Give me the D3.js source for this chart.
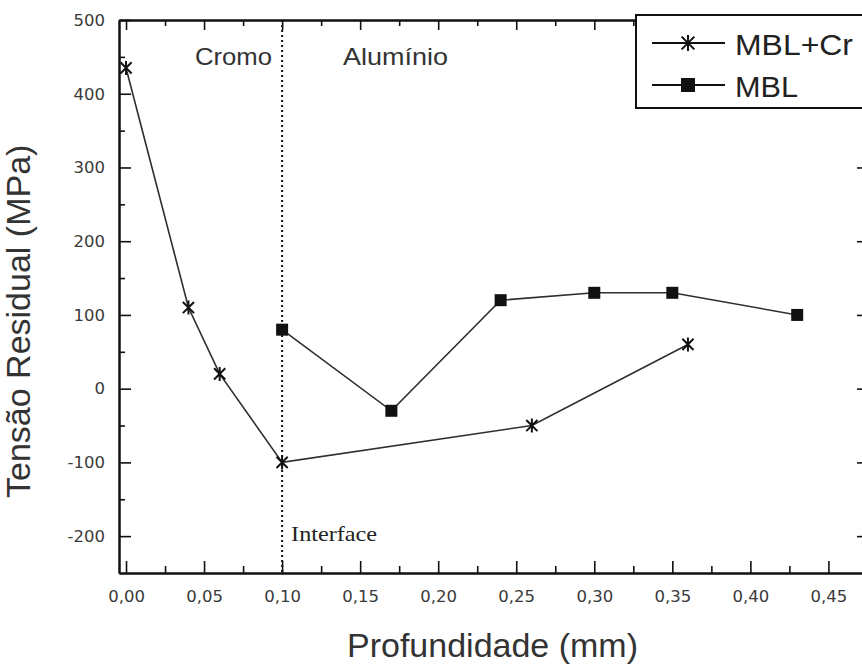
<!DOCTYPE html>
<html>
<head>
<meta charset="utf-8">
<script src="https://cdn.jsdelivr.net/npm/d3@7"></script>
<style>
  body { margin: 0; background: #fff; }
  svg { display: block; }
</style>
</head>
<body>
<svg id="chart" width="862" height="664"></svg>
<script>
// Residual stress profiles versus depth
const depthCr = [0.00, 0.04, 0.06, 0.10, 0.26, 0.36];
const stressCr = [435, 110, 20, -100, -50, 60];
const depthMBL = [0.10, 0.17, 0.24, 0.30, 0.35, 0.43];
const stressMBL = [80, -30, 120, 130, 130, 100];
const seriesNames = ["MBL+Cr", "MBL"];

const xTicks = [0.00, 0.05, 0.10, 0.15, 0.20, 0.25, 0.30, 0.35, 0.40, 0.45];
const xMinorTicks = [0.025, 0.075, 0.125, 0.175, 0.225, 0.275, 0.325, 0.375, 0.425];
const yTicks = [-200, -100, 0, 100, 200, 300, 400, 500];
const yMinorTicks = [-150, -50, 50, 150, 250, 350, 450];

const interfaceDepth = 0.10;
const regionNames = ["Cromo", "Alumínio"];
const interfaceName = "Interface";
const xTitle = "Profundidade (mm)";
const yTitle = "Tensão Residual (MPa)";

const svg = d3.select("#chart");
const plotLeft = 119, plotRight = 869, plotTop = 20, plotBottom = 573;

const x = d3.scaleLinear().domain([-0.0045, 0.476]).range([plotLeft, plotRight]);
const y = d3.scaleLinear().domain([-250, 500]).range([plotBottom, plotTop]);

const fmtX = v => d3.format(".2f")(v).replace(".", ",");
const fmtY = v => String(v);

// frame axes with inward ticks
function styleAxis(g) {
  g.select(".domain").attr("stroke", "#111").attr("stroke-width", 2);
  g.selectAll(".tick line").attr("stroke", "#111").attr("stroke-width", 1.6);
  g.selectAll(".tick text")
    .attr("font-family", "DejaVu Sans, sans-serif")
    .attr("font-size", 16.5)
    .attr("fill", "#3a3a3a");
}

// bottom
svg.append("g").attr("transform", `translate(0,${plotBottom})`)
  .call(d3.axisBottom(x).tickValues(xTicks).tickFormat(fmtX).tickSize(-12).tickSizeOuter(0).tickPadding(17))
  .call(styleAxis);
svg.append("g").attr("transform", `translate(0,${plotBottom})`)
  .call(d3.axisBottom(x).tickValues(xMinorTicks).tickFormat("").tickSize(-7).tickSizeOuter(0))
  .call(styleAxis);
// top
svg.append("g").attr("transform", `translate(0,${plotTop})`)
  .call(d3.axisTop(x).tickValues(xTicks).tickFormat("").tickSize(-10).tickSizeOuter(0))
  .call(styleAxis);
svg.append("g").attr("transform", `translate(0,${plotTop})`)
  .call(d3.axisTop(x).tickValues(xMinorTicks).tickFormat("").tickSize(-6).tickSizeOuter(0))
  .call(styleAxis);
// left
svg.append("g").attr("transform", `translate(${plotLeft},0)`)
  .call(d3.axisLeft(y).tickValues(yTicks).tickFormat(fmtY).tickSize(-12).tickSizeOuter(0).tickPadding(14))
  .call(styleAxis);
svg.append("g").attr("transform", `translate(${plotLeft},0)`)
  .call(d3.axisLeft(y).tickValues(yMinorTicks).tickFormat("").tickSize(-6).tickSizeOuter(0))
  .call(styleAxis);
// right
svg.append("g").attr("transform", `translate(${plotRight},0)`)
  .call(d3.axisRight(y).tickValues(yTicks).tickFormat("").tickSize(-12).tickSizeOuter(0))
  .call(styleAxis);
svg.append("g").attr("transform", `translate(${plotRight},0)`)
  .call(d3.axisRight(y).tickValues(yMinorTicks).tickFormat("").tickSize(-6).tickSizeOuter(0))
  .call(styleAxis);

// interface marker
svg.append("line")
  .attr("x1", x(interfaceDepth)).attr("x2", x(interfaceDepth))
  .attr("y1", y(500)).attr("y2", y(-250))
  .attr("stroke", "#111").attr("stroke-width", 2)
  .attr("stroke-dasharray", "2,3");

svg.append("text")
  .attr("x", x(interfaceDepth) + 9).attr("y", 541)
  .attr("font-family", "Liberation Serif, serif").attr("font-size", 22)
  .attr("textLength", 86).attr("lengthAdjust", "spacingAndGlyphs")
  .attr("fill", "#222").text(interfaceName);

const regionPos = [{x: 195, w: 77}, {x: 343, w: 105}];
regionNames.forEach((name, i) => {
  svg.append("text")
    .attr("x", regionPos[i].x).attr("y", 65)
    .attr("font-family", "Liberation Sans, Arial, sans-serif").attr("font-size", 24)
    .attr("textLength", regionPos[i].w).attr("lengthAdjust", "spacingAndGlyphs")
    .attr("fill", "#333").text(name);
});

// series
const crData = depthCr.map((d, i) => ({x: d, y: stressCr[i]}));
const mblData = depthMBL.map((d, i) => ({x: d, y: stressMBL[i]}));
const line = d3.line().x(d => x(d.x)).y(d => y(d.y));

svg.append("path").datum(crData).attr("d", line)
  .attr("fill", "none").attr("stroke", "#2e2e2e").attr("stroke-width", 1.6);
svg.append("path").datum(mblData).attr("d", line)
  .attr("fill", "none").attr("stroke", "#2e2e2e").attr("stroke-width", 1.6);

function starPath(cx, cy, r) {
  const a = r * 0.8;
  return `M${cx},${cy - r}L${cx},${cy + r}` +
         `M${cx - a},${cy - a}L${cx + a},${cy + a}` +
         `M${cx - a},${cy + a}L${cx + a},${cy - a}`;
}

svg.append("g").selectAll("path").data(crData).join("path")
  .attr("d", d => starPath(x(d.x), y(d.y), 7))
  .attr("stroke", "#111").attr("stroke-width", 2).attr("fill", "none");

const sq = 12;
svg.append("g").selectAll("rect").data(mblData).join("rect")
  .attr("x", d => x(d.x) - sq / 2).attr("y", d => y(d.y) - sq / 2)
  .attr("width", sq).attr("height", sq).attr("fill", "#111");

// legend
const lg = svg.append("g");
lg.append("rect").attr("x", 636).attr("y", 15).attr("width", 300).attr("height", 93)
  .attr("fill", "#fff").attr("stroke", "#111").attr("stroke-width", 2);
const legendRows = [{y: 43, w: 118}, {y: 85, w: 63}];
seriesNames.forEach((name, i) => {
  const ry = legendRows[i].y;
  lg.append("line").attr("x1", 652).attr("x2", 725).attr("y1", ry).attr("y2", ry)
    .attr("stroke", "#111").attr("stroke-width", 1.8);
  if (i === 0) {
    lg.append("path").attr("d", starPath(688, ry, 8))
      .attr("stroke", "#111").attr("stroke-width", 2).attr("fill", "none");
  } else {
    lg.append("rect").attr("x", 688 - 7).attr("y", ry - 7).attr("width", 14).attr("height", 14)
      .attr("fill", "#111");
  }
  lg.append("text").attr("x", 735).attr("y", ry + 12)
    .attr("font-family", "Liberation Sans, Arial, sans-serif").attr("font-size", 30)
    .attr("textLength", legendRows[i].w).attr("lengthAdjust", "spacingAndGlyphs")
    .attr("fill", "#222").text(name);
});

// axis titles
svg.append("text").attr("x", 347).attr("y", 657)
  .attr("font-family", "Liberation Sans, Arial, sans-serif").attr("font-size", 34)
  .attr("fill", "#333").text(xTitle);

svg.append("text").attr("transform", "translate(30,498) rotate(-90)")
  .attr("font-family", "Liberation Sans, Arial, sans-serif").attr("font-size", 34)
  .attr("fill", "#333").text(yTitle);
</script>
</body>
</html>
